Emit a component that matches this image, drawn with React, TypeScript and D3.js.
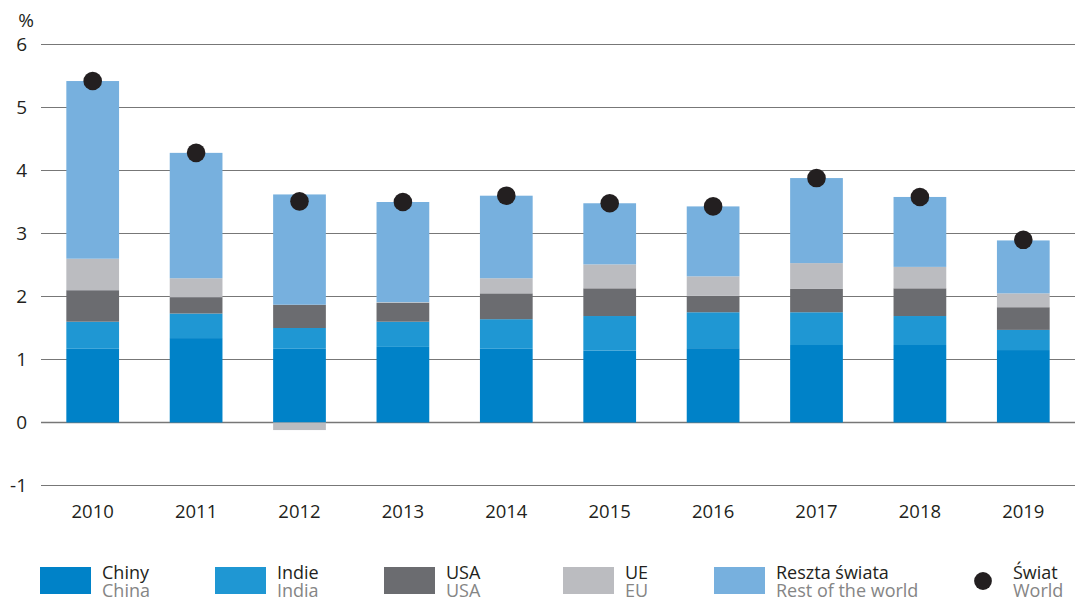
import React from "react"
import * as d3 from "d3"

// years on the x axis
const years = ["2010", "2011", "2012", "2013", "2014", "2015", "2016", "2017", "2018", "2019"]

// contributions to world growth, percentage points
const china = [1.17, 1.34, 1.17, 1.2, 1.17, 1.14, 1.18, 1.23, 1.23, 1.15]
const india = [0.43, 0.39, 0.33, 0.4, 0.47, 0.55, 0.57, 0.52, 0.46, 0.32]
const usa = [0.5, 0.26, 0.37, 0.3, 0.41, 0.44, 0.26, 0.37, 0.44, 0.36]
const eu = [0.5, 0.3, -0.12, 0.01, 0.24, 0.38, 0.31, 0.41, 0.34, 0.22]
const rest = [2.82, 1.99, 1.75, 1.59, 1.31, 0.97, 1.11, 1.35, 1.11, 0.84]
const world = [5.42, 4.28, 3.51, 3.5, 3.6, 3.48, 3.43, 3.88, 3.58, 2.9]

const yTicks = [-1, 0, 1, 2, 3, 4, 5, 6]

const seriesKeys = ["china", "india", "usa", "eu", "rest"]
const seriesLabelsPl = ["Chiny", "Indie", "USA", "UE", "Reszta świata"]
const seriesLabelsEn = ["China", "India", "USA", "EU", "Rest of the world"]
const seriesColors = ["#0082c8", "#1f97d3", "#6b6c70", "#bbbcc0", "#77b0de"]
const worldLabelPl = "Świat"
const worldLabelEn = "World"
const dotColor = "#231f20"

const width = 1075
const height = 601
const margin = { top: 44.5, right: 0, bottom: 115.5, left: 41 }
const font = "'Open Sans', sans-serif"

// legend item left edges
const legendX = [40, 215, 384, 563, 714, 974]

const App = () => {
  const rows = years.map((year, i) => ({
    year,
    china: china[i],
    india: india[i],
    usa: usa[i],
    eu: eu[i],
    rest: rest[i],
  }))

  const stacked = d3
    .stack<any>()
    .keys(seriesKeys)
    .offset(d3.stackOffsetDiverging)(rows)

  const x = d3
    .scaleBand()
    .domain(years)
    .range([margin.left, width - margin.right])
    .paddingInner(0.49)
    .paddingOuter(0.245)

  const y = d3
    .scaleLinear()
    .domain([-1, 6])
    .range([height - margin.bottom, margin.top])

  return (
    <svg
      width={width}
      height={height}
      style={{ position: "absolute", left: 0, top: 0, background: "#fff" }}
      fontFamily={font}
    >
      {/* grid */}
      <g>
        {yTicks.map(t => (
          <line
            key={t}
            x1={margin.left}
            x2={width - margin.right}
            y1={y(t)}
            y2={y(t)}
            stroke="#777"
            strokeWidth={t === 0 ? 1.6 : 1.2}
          />
        ))}
      </g>
      <g fontSize={19} fill="#231f20" textAnchor="end">
        {yTicks.map(t => (
          <text key={t} x={27} y={y(t)} dy="0.36em">
            {t}
          </text>
        ))}
        <text x={34} y={27}>
          %
        </text>
      </g>

      {/* bars */}
      {stacked.map((s, si) => (
        <g key={s.key} fill={seriesColors[si]}>
          {s.map((d, i) => (
            <rect
              key={i}
              x={x(years[i])}
              width={x.bandwidth()}
              y={y(Math.max(d[0], d[1]))}
              height={Math.abs(y(d[0]) - y(d[1]))}
            />
          ))}
        </g>
      ))}

      {/* world growth */}
      <g fill={dotColor}>
        {world.map((v, i) => (
          <circle key={i} cx={x(years[i])! + x.bandwidth() / 2} cy={y(v)} r={9.3} />
        ))}
      </g>

      {/* x labels */}
      <g fontSize={18.5} fill="#231f20" textAnchor="middle">
        {years.map(yr => (
          <text key={yr} x={x(yr)! + x.bandwidth() / 2} y={518}>
            {yr}
          </text>
        ))}
      </g>

      {/* legend */}
      <g fontSize={18}>
        {seriesKeys.map((k, i) => (
          <g key={k} transform={`translate(${legendX[i]},0)`}>
            <rect x={0} y={567} width={51} height={27} fill={seriesColors[i]} />
            <text x={62} y={579} fill="#231f20">
              {seriesLabelsPl[i]}
            </text>
            <text x={62} y={597} fill="#858585">
              {seriesLabelsEn[i]}
            </text>
          </g>
        ))}
        <g transform={`translate(${legendX[5]},0)`}>
          <circle cx={9} cy={581} r={8.9} fill={dotColor} />
          <text x={39} y={579} fill="#231f20">
            {worldLabelPl}
          </text>
          <text x={39} y={597} fill="#858585">
            {worldLabelEn}
          </text>
        </g>
      </g>
    </svg>
  )
}

export default App
